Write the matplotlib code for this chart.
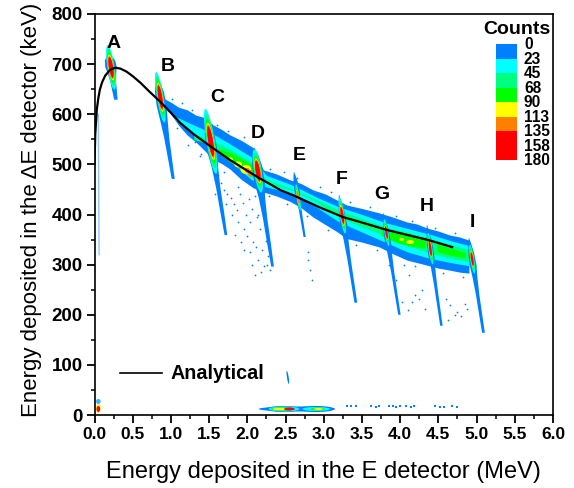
import numpy as np
import matplotlib
matplotlib.use('Agg')
import matplotlib.pyplot as plt

plt.rcParams['font.family'] = ['Liberation Sans', 'DejaVu Sans']

BLUE = '#0080ff'
CYAN = '#00ffff'
SPRING = '#00ff80'
LIME = '#00ff00'
YELLOW = '#ffff00'
ORANGE = '#ff8000'
RED = '#ff0000'

# analytical curve
curve_E = [0.0, 0.01, 0.03, 0.05, 0.07, 0.10, 0.14, 0.20, 0.27, 0.34, 0.42, 0.50, 0.60, 0.72, 0.86, 1.00, 1.12,
           1.30, 1.49, 1.77, 2.13, 2.43, 2.65, 2.95, 3.25, 3.50, 3.83, 4.10, 4.37, 4.68]
curve_dE = [500, 560, 609, 632, 649, 664, 677, 688, 693, 691, 685, 676, 663, 645, 625, 603, 583,
            560, 539, 509, 475, 449, 435, 414, 395, 384, 369, 359, 349, 335]

# scattered band, outer edge
blue_E = [0.90, 1.00, 1.10, 1.21, 1.33, 1.45, 1.55, 1.66, 1.77, 1.92, 2.08, 2.21, 2.38, 2.56, 2.70, 2.86, 3.02, 3.17,
          3.30, 3.50, 3.73, 3.90, 4.09, 4.22, 4.35, 4.50, 4.65, 4.78, 4.90]
blue_hi = [632, 624, 614, 609, 598, 593, 579, 570, 559, 548, 533, 489, 481, 469, 462, 449, 441, 429,
           419, 412, 403, 395, 385, 381, 373, 367, 359, 355, 349]
blue_lo = [615, 600, 578, 559, 544, 526, 510, 502, 491, 470, 453, 445, 437, 426, 414, 395, 380, 366,
           352, 345, 335, 322, 309, 304, 299, 293, 289, 285, 283]

cyan_E = [1.05, 1.25, 1.5, 1.75, 2.05, 2.25, 2.6, 2.9, 3.2, 3.5, 3.8, 4.1, 4.4, 4.7, 4.9]
cyan_hi = [596, 582, 565, 543, 515, 478, 458, 435, 415, 400, 384, 372, 360, 346, 338]
cyan_lo = [590, 565, 535, 510, 470, 455, 442, 415, 385, 365, 345, 325, 312, 303, 298]

spring_E = [1.3, 1.5, 1.75, 2.05, 2.25, 2.6, 2.9, 3.2, 3.5, 3.8, 4.1, 4.4, 4.7, 4.9]
spring_hi = [560, 550, 532, 505, 470, 450, 430, 408, 392, 375, 365, 352, 338, 330]
spring_lo = [550, 540, 520, 480, 462, 448, 425, 395, 375, 358, 338, 322, 312, 306]

lime_E = [1.62, 1.80, 2.05, 2.12, 3.75, 3.95, 4.15, 4.33, 4.48, 4.68, 4.85]
lime_hi = [532, 522, 500, 492, 368, 366, 360, 350, 342, 332, 324]
lime_lo = [524, 502, 476, 472, 358, 344, 336, 334, 326, 318, 314]

# hot patches inside the band: E, dE, half width, half height
patch_E = [1.88, 1.98, 2.04, 1.78, 4.13, 4.02, 2.00]
patch_dE = [500, 490, 482, 510, 345, 350, 488]
patch_wE = [0.05, 0.07, 0.03, 0.03, 0.05, 0.03, 0.03]
patch_hdE = [6, 9, 7, 4, 4, 3, 5]
patch_color = [YELLOW, YELLOW, ORANGE, YELLOW, YELLOW, YELLOW, ORANGE]

# ion peaks A to I
peak_names = ['A', 'B', 'C', 'D', 'E', 'F', 'G', 'H', 'I']
top_E = [0.19, 0.82, 1.47, 2.09, 2.61, 3.20, 3.78, 4.35, 4.90]
top_dE = [720, 673, 593, 533, 485, 439, 403, 379, 353]
bot_E = [0.28, 1.03, 1.72, 2.33, 2.75, 3.42, 3.99, 4.54, 5.09]
bot_dE = [629, 471, 359, 296, 355, 224, 200, 178, 164]
core_top = [712, 655, 573, 505, 445, 413, 375, 345, 323]
core_bot = [675, 613, 519, 469, 423, 383, 353, 319, 299]
core_w = [0.028, 0.026, 0.032, 0.030, 0.012, 0.018, 0.014, 0.015, 0.015]
outer_w = [0.075, 0.065, 0.07, 0.07, 0.035, 0.045, 0.04, 0.04, 0.045]
label_E = [0.255, 0.96, 1.60, 2.14, 2.68, 3.24, 3.76, 4.35, 4.94]
label_dE = [742, 695, 633, 561, 517, 469, 439, 415, 385]

# loose counts under the band
dots_E = [1.62, 1.66, 1.70, 1.74, 1.78, 1.82, 1.86, 1.90, 1.94, 1.98, 2.02, 2.06, 2.10, 2.14, 2.18,
          1.72, 1.80, 1.88, 1.96, 2.04, 2.12, 2.20, 1.84, 1.92, 2.00, 2.08, 2.16, 2.24, 1.95, 2.03,
          2.11, 2.19, 2.27, 2.06, 2.14, 2.22, 2.10, 2.18, 2.26, 2.30, 2.80, 2.82, 2.84, 2.79,
          3.70, 3.85, 3.92, 4.05, 4.12, 4.20, 4.28, 4.02, 4.15, 4.24, 3.95, 4.10, 4.32, 4.60, 4.65,
          4.72, 4.80, 4.88, 4.62, 4.75, 4.85, 1.40, 1.32, 1.58, 1.64,
          1.02, 1.15, 1.28, 1.44, 1.60, 1.75, 1.95, 2.30, 2.48, 2.65, 2.95, 3.10, 3.35, 3.60, 3.95, 4.15, 4.45, 4.72,
          1.08, 1.22, 1.38, 1.70, 1.88, 2.28, 2.52, 2.78, 3.05, 3.42, 3.85, 4.20, 4.56, 4.82]
dots_dE = [478, 462, 448, 440, 432, 420, 408, 440, 422, 400, 430, 410, 436, 400, 420,
           420, 400, 385, 372, 385, 395, 405, 360, 345, 358, 345, 372, 348, 330, 325,
           335, 330, 318, 300, 310, 298, 280, 285, 300, 290, 310, 290, 270, 325,
           330, 300, 262, 300, 280, 240, 250, 225, 225, 232, 270, 210, 212, 232, 220,
           200, 198, 212, 190, 205, 222, 520, 545, 440, 420,
           630, 622, 608, 599, 578, 566, 554, 491, 484, 472, 454, 445, 424, 414, 398, 388, 374, 363,
           572, 538, 516, 484, 455, 436, 420, 398, 370, 340, 315, 298, 284, 276]

# small groups along the bottom
faint_E = [3.30, 3.36, 3.42, 3.62, 3.68, 3.72, 3.85, 3.90, 3.95, 4.00, 4.08, 4.14, 4.18, 4.45, 4.52, 4.58, 4.68, 4.74]
faint_dE = [17, 17, 17, 17, 16, 17, 17, 17, 16, 17, 17, 16, 17, 17, 16, 16, 17, 16]


def ellipse(ax, xc, yc, slope, w, h, color, z):
    t = np.linspace(0, 2 * np.pi, 60)
    y = yc + h * np.sin(t)
    x = xc + slope * (y - yc) + w * np.cos(t)
    ax.fill(x, y, color=color, lw=0, zorder=z)


def streak(ax, i):
    slope = (bot_E[i] - top_E[i]) / (bot_dE[i] - top_dE[i])
    # outer blue shape
    s = np.array([0, 0.05, 0.14, 0.28, 0.42, 0.6, 0.8, 1.0])
    prof = np.array([0.05, 0.45, 0.9, 1.0, 0.75, 0.5, 0.4, 0.3])
    if i == 3 or i == 2:
        prof = np.array([0.05, 0.5, 0.9, 1.0, 0.6, 0.4, 0.35, 0.25])
    if i >= 4:
        s = np.array([0, 0.06, 0.15, 0.28, 0.42, 0.6, 0.8, 1.0])
        prof = np.array([0.05, 0.4, 0.8, 1.0, 0.7, 0.5, 0.45, 0.4])
    y = top_dE[i] + s * (bot_dE[i] - top_dE[i])
    x = top_E[i] + s * (bot_E[i] - top_E[i])
    w = prof * outer_w[i]
    ax.fill(np.r_[x - w, (x + w)[::-1]], np.r_[y, y[::-1]], color=BLUE, lw=0, zorder=4)
    yc = (core_top[i] + core_bot[i]) / 2
    xc = top_E[i] + slope * (yc - top_dE[i])
    hh = (core_top[i] - core_bot[i]) / 2
    wc = core_w[i]
    last = RED if wc > 0.0125 else ORANGE
    layers = [(CYAN, 2.4, 1.7), (SPRING, 2.0, 1.5), (LIME, 1.65, 1.35), (YELLOW, 1.4, 1.22), (ORANGE, 1.25, 1.1), (last, 1.12, 1.0)]
    for n, (c, kh, kw) in enumerate(layers):
        ellipse(ax, xc, yc, slope, wc * kw, hh * kh, c, 5 + n)


fig = plt.figure(figsize=(5.74, 4.88), dpi=100)
ax = fig.add_axes([94.5 / 574, 1 - 415 / 488, 458.5 / 574, 401 / 488])

# band layers
ax.fill_between(blue_E, blue_lo, blue_hi, color=BLUE, lw=0, zorder=1)
ax.fill_between(cyan_E, cyan_lo, cyan_hi, color=CYAN, lw=0, zorder=2)
ax.fill_between(spring_E, spring_lo, spring_hi, color=SPRING, lw=0, zorder=2.2)
ax.fill_between(lime_E[:4], lime_lo[:4], lime_hi[:4], color=LIME, lw=0, zorder=2.4)
ax.fill_between(lime_E[4:8], lime_lo[4:8], lime_hi[4:8], color=LIME, lw=0, zorder=2.4)
ax.fill_between(lime_E[8:], lime_lo[8:], lime_hi[8:], color=LIME, lw=0, zorder=2.4)
for i in range(len(patch_E)):
    ellipse(ax, patch_E[i], patch_dE[i], 0, patch_wE[i], patch_hdE[i], patch_color[i], 2.6)

ax.scatter(dots_E, dots_dE, s=1.6, color=BLUE, lw=0, zorder=1)

for i in range(len(peak_names)):
    streak(ax, i)
    ax.text(label_E[i], label_dE[i], peak_names[i], fontsize=14, fontweight='bold', ha='center', va='center', zorder=12)

# faint line along the left axis
ax.plot([0.05, 0.06], [600, 320], color=BLUE, lw=1, alpha=0.45, zorder=1)

# bottom groups
ellipse(ax, 0.05, 13, 0, 0.03, 9, YELLOW, 3)
ellipse(ax, 0.05, 12, 0, 0.024, 6, RED, 3.1)
ellipse(ax, 0.05, 27, 0, 0.03, 5, '#40b0ff', 3)
ellipse(ax, 2.53, 75, -0.001, 0.012, 13, BLUE, 3)
ellipse(ax, 2.65, 12, 0, 0.50, 5, BLUE, 3)
ellipse(ax, 2.47, 12, 0, 0.22, 6, BLUE, 3)
ellipse(ax, 2.90, 12, 0, 0.24, 6, BLUE, 3)
ellipse(ax, 2.48, 12, 0, 0.20, 5, CYAN, 3.1)
ellipse(ax, 2.90, 12, 0, 0.18, 4, CYAN, 3.1)
ellipse(ax, 2.46, 12, 0, 0.15, 3.5, LIME, 3.2)
ellipse(ax, 2.92, 12, 0, 0.09, 3, LIME, 3.2)
ellipse(ax, 2.43, 12, 0, 0.10, 2.5, YELLOW, 3.3)
ellipse(ax, 2.93, 12, 0, 0.06, 2, YELLOW, 3.3)
ellipse(ax, 2.55, 12, 0, 0.07, 3, RED, 3.4)
ax.scatter(faint_E, faint_dE, s=2.2, marker='s', color=BLUE, lw=0, zorder=3)

ax.plot(curve_E, curve_dE, color='black', lw=1.6, zorder=11)

# legend line
ax.plot([0.33, 0.88], [83, 83], color='black', lw=1.2)
ax.text(1.0, 83, 'Analytical', fontsize=14.2, fontweight='bold', va='center', ha='left')

ax.set_xlim(0, 6)
ax.set_ylim(0, 800)
ax.set_xticks(np.arange(0, 6.01, 0.5))
ax.set_xticks(np.arange(0, 6.01, 0.25), minor=True)
ax.set_yticks(np.arange(0, 801, 100))
ax.set_yticks(np.arange(0, 801, 50), minor=True)
ax.set_xticklabels(['%.1f' % v for v in np.arange(0, 6.01, 0.5)], fontweight='bold', fontsize=12.5)
ax.set_yticklabels(['%d' % v for v in np.arange(0, 801, 100)], fontweight='bold', fontsize=13.5)
ax.tick_params(which='major', length=5.5, width=1.3, pad=3)
ax.tick_params(which='minor', length=3, width=1.1)
for sp in ax.spines.values():
    sp.set_linewidth(1.2)
ax.set_xlabel('Energy deposited in the E detector (MeV)', fontsize=17, labelpad=14)
ax.set_ylabel('Energy deposited in the ΔE detector (keV)', fontsize=16)
ax.yaxis.set_label_coords((42 - 94.5) / 458.5, (415 - 210) / 401)

# counts key
key_labels = ['0', '23', '45', '68', '90', '113', '135', '158', '180']
key_colors = [BLUE, CYAN, SPRING, LIME, YELLOW, ORANGE, RED, RED]
tr = ax.transAxes
x0 = (496 - 94.5) / 458.5
x1 = (517 - 94.5) / 458.5
ytop = (415 - 44) / 401
step = 14.5 / 401
for i, c in enumerate(key_colors):
    ax.fill([x0, x1, x1, x0], [ytop - i * step, ytop - i * step, ytop - (i + 1) * step, ytop - (i + 1) * step],
            color=c, lw=0, transform=tr, zorder=13)
for i, lab in enumerate(key_labels):
    ax.text((524 - 94.5) / 458.5, ytop - i * step - 0.002, lab, fontsize=11.2, fontweight='bold', va='center', ha='left', transform=tr, zorder=13)
ax.text((551 - 94.5) / 458.5, (415 - 29) / 401, 'Counts', fontsize=14, fontweight='bold', va='center', ha='right', transform=tr, zorder=13)

fig.savefig('out.png', dpi=100)
